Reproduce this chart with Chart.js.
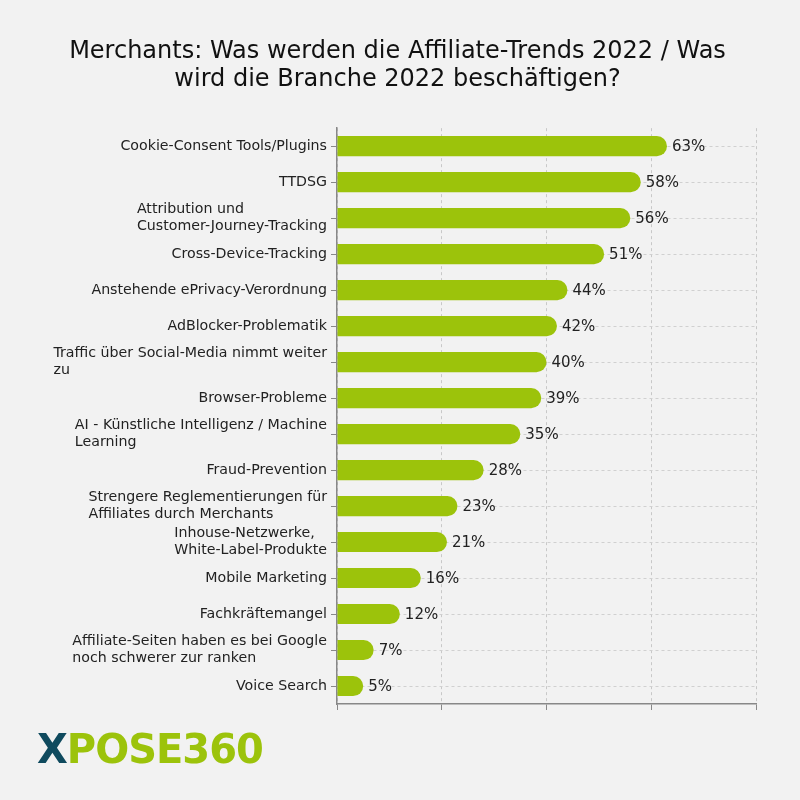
<!DOCTYPE html>
<html>
<head>
<meta charset="utf-8">
<script src="https://cdn.jsdelivr.net/npm/chart.js@4.4.0/dist/chart.umd.min.js"></script>
<style>
  html, body { margin:0; padding:0; background:#f2f2f2; }
  #wrap { position:relative; width:800px; height:800px; }
  #logo { position:absolute; left:37px; top:725px; font-family:"DejaVu Sans", sans-serif; font-weight:bold; font-size:40px; letter-spacing:-1px; line-height:48px; }
  #logo .x { color:#0f4a5e; }
  #logo .g { color:#9cc30b; }
</style>
</head>
<body>
<div id="wrap">
<canvas id="c" width="800" height="800"></canvas>
<div id="logo"><span class="x">X</span><span class="g">POSE360</span></div>
</div>
<script>
const titleLines = ["Merchants: Was werden die Affiliate-Trends 2022 / Was", "wird die Branche 2022 beschäftigen?"];
const categories = [
  ["Cookie-Consent Tools/Plugins"],
  ["TTDSG"],
  ["Attribution und", "Customer-Journey-Tracking"],
  ["Cross-Device-Tracking"],
  ["Anstehende ePrivacy-Verordnung"],
  ["AdBlocker-Problematik"],
  ["Traffic über Social-Media nimmt weiter", "zu"],
  ["Browser-Probleme"],
  ["AI - Künstliche Intelligenz / Machine", "Learning"],
  ["Fraud-Prevention"],
  ["Strengere Reglementierungen für", "Affiliates durch Merchants"],
  ["Inhouse-Netzwerke,", "White-Label-Produkte"],
  ["Mobile Marketing"],
  ["Fachkräftemangel"],
  ["Affiliate-Seiten haben es bei Google", "noch schwerer zur ranken"],
  ["Voice Search"]
];
const values = [63, 58, 56, 51, 44, 42, 40, 39, 35, 28, 23, 21, 16, 12, 7, 5];
const xTicks = [0, 20, 40, 60, 80];

const FONT = '"DejaVu Sans", sans-serif';

const labelPlugin = {
  id: 'leftLabels',
  afterDraw(chart) {
    const ctx = chart.ctx;
    const y = chart.scales.y;
    ctx.save();
    ctx.font = '14.2px ' + FONT;
    ctx.fillStyle = '#222';
    ctx.textBaseline = 'middle';
    ctx.textAlign = 'left';
    const lh = 17;
    categories.forEach((lines, i) => {
      const py = y.getPixelForTick(i);
      let maxW = 0;
      lines.forEach(l => { maxW = Math.max(maxW, ctx.measureText(l).width); });
      const x0 = y.right - 10 - maxW;
      const start = py - (lines.length - 1) * lh / 2;
      lines.forEach((l, k) => ctx.fillText(l, x0, start + k * lh));
    });
    ctx.restore();
  }
};

const valuePlugin = {
  id: 'valueLabels',
  afterDatasetsDraw(chart) {
    const ctx = chart.ctx;
    const meta = chart.getDatasetMeta(0);
    ctx.save();
    ctx.font = '15px ' + FONT;
    ctx.fillStyle = '#222';
    ctx.textBaseline = 'middle';
    ctx.textAlign = 'left';
    meta.data.forEach((bar, i) => {
      ctx.fillText(values[i] + '%', bar.x + 5, bar.y + 1);
    });
    ctx.restore();
  }
};

new Chart(document.getElementById('c'), {
  type: 'bar',
  data: {
    labels: categories,
    datasets: [{
      data: values,
      backgroundColor: '#9cc30b',
      borderRadius: { topRight: 12, bottomRight: 12, topLeft: 0, bottomLeft: 0 },
      borderSkipped: false,
      barPercentage: 0.56,
      categoryPercentage: 1.0
    }]
  },
  options: {
    indexAxis: 'y',
    responsive: false,
    animation: false,
    devicePixelRatio: 1,
    layout: { padding: { top: 0, right: 44, bottom: 90, left: 39 } },
    plugins: {
      legend: { display: false },
      tooltip: { enabled: false },
      title: {
        display: true,
        text: titleLines,
        color: '#111',
        font: { family: FONT, size: 24, weight: 'normal', lineHeight: 1.17 },
        padding: { top: 38, bottom: 34 }
      }
    },
    scales: {
      x: {
        min: 0, max: 80,
        afterBuildTicks(scale) { scale.ticks = xTicks.map(v => ({ value: v })); },
        ticks: { display: false },
        grid: { color: '#c8c8c8', tickLength: 6, tickColor: '#888', tickBorderDash: [], drawTicks: true, lineWidth: 1 },
        border: { display: true, color: '#888', width: 1.5, dash: [3, 3] }
      },
      y: {
        afterFit(scale) { scale.width = 298; },
        ticks: { color: 'rgba(0,0,0,0)', font: { family: FONT, size: 13 }, padding: 4 },
        grid: { offset: false, color: '#d0d0d0', tickLength: 6, tickColor: '#888', tickBorderDash: [], drawTicks: true, lineWidth: 1 },
        border: { display: true, color: '#888', width: 1.5, dash: [3, 3] }
      }
    }
  },
  plugins: [labelPlugin, valuePlugin]
});
</script>
</body>
</html>
